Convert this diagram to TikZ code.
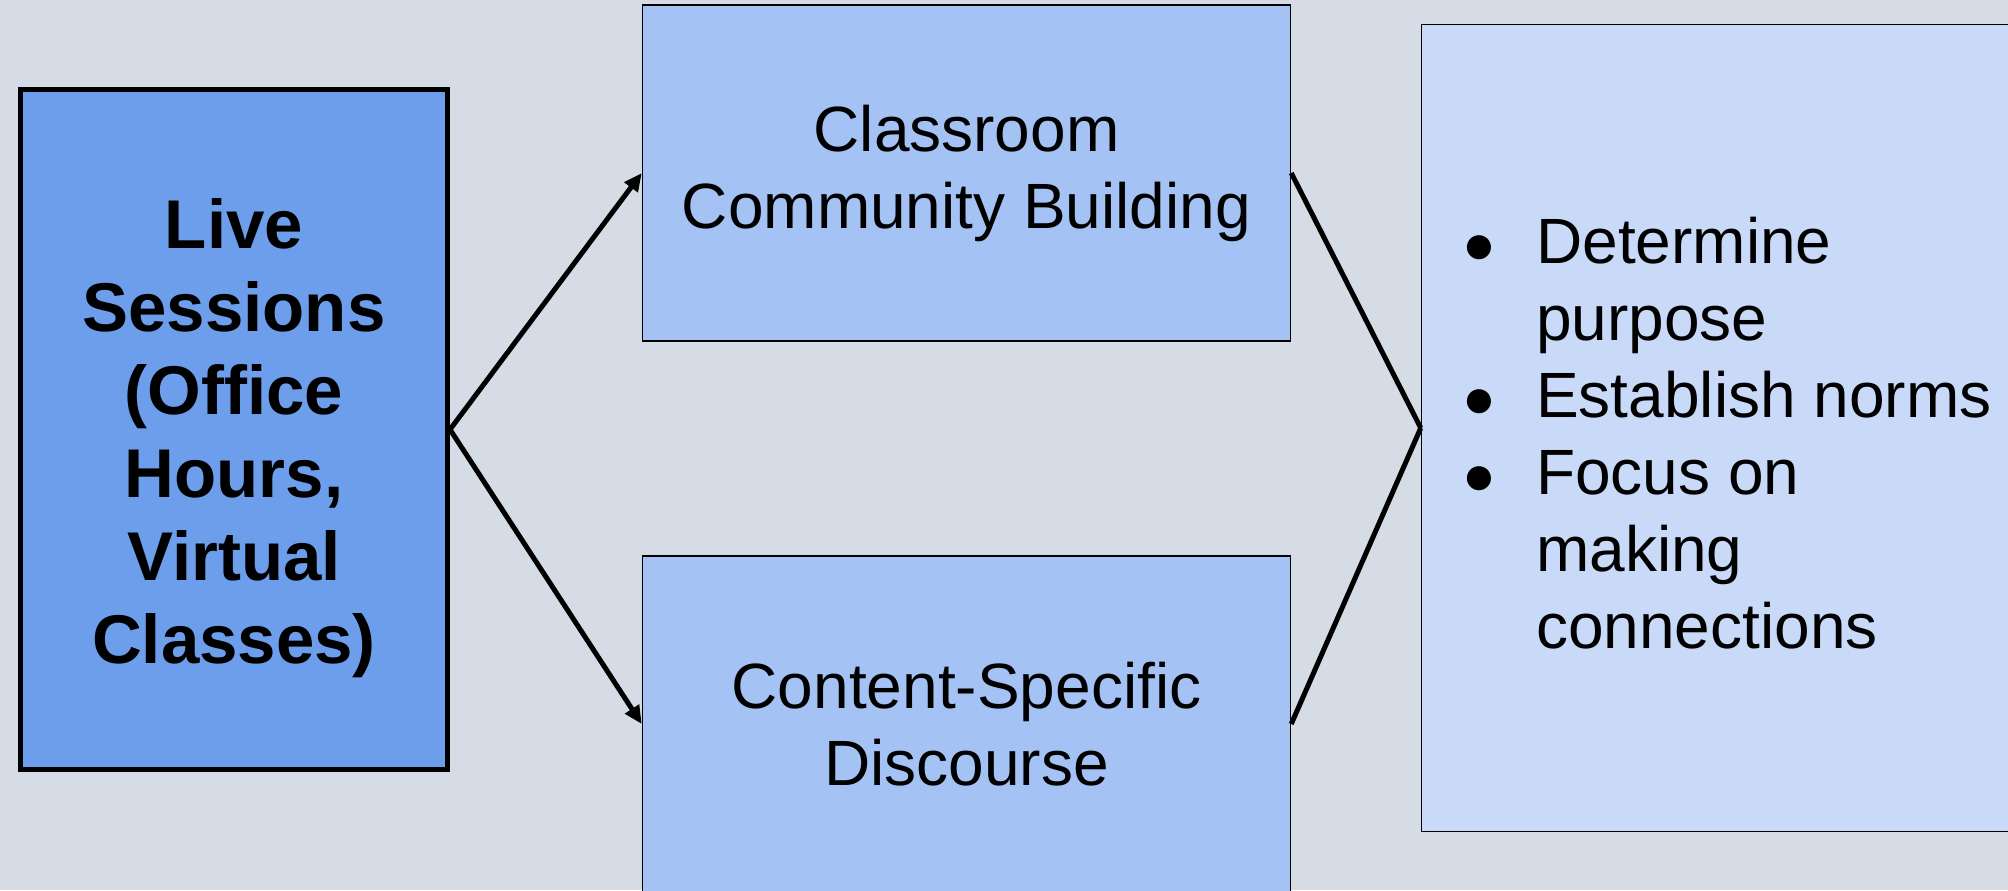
\documentclass[tikz,border=0pt]{standalone}
\usepackage{fontspec}
\setmainfont{Liberation Sans}
\usetikzlibrary{arrows.meta}
\definecolor{slidebg}{HTML}{D5DCE6}
\definecolor{livefill}{HTML}{6D9EEB}
\definecolor{topicfill}{HTML}{A4C2F4}
\definecolor{notefill}{HTML}{C9DAF8}
\tikzset{
    livebox/.style={draw, line width=2.5pt, fill=livefill, minimum width=213.5pt,
        minimum height=340pt, align=center,
        font=\fontsize{34.5}{41.5}\selectfont\bfseries},
    topicbox/.style={draw, line width=0.75pt, fill=topicfill, minimum width=324pt,
        minimum height=168pt, align=center,
        font=\fontsize{32}{38.5}\selectfont},
    notebox/.style={draw, line width=0.75pt, fill=notefill, minimum width=304pt,
        minimum height=403.5pt},
    linkline/.style={line width=2.5pt},
    linkarrow/.style={line width=2.5pt, -{Triangle[length=9pt,width=8pt]}}
}
\begin{document}
\begin{tikzpicture}[x=0.5pt, y=-0.5pt]
            \path[use as bounding box, fill=slidebg] (0, 0) rectangle (2008, 890);
            \clip (0, 0) rectangle (2008, 890);

            \node[livebox] (live) at (234, 429.5) {\rule{0pt}{33.5pt}Live\\Sessions\\(Office\\Hours,\\Virtual\\Classes)};
            \node[topicbox] (community) at (966.5, 173) {Classroom\\Community Building};
            \node[topicbox] (content) at (966.5, 724) {Content-Specific\\Discourse};
            \node[notebox] (norms) at (1725.5, 428) {};
            \node[anchor=base west, inner sep=0pt, font=\fontsize{32}{38.5}\selectfont] (tips) at (1462, 263) {%
                \begin{tabular}[t]{@{}l@{\hspace{20pt}}l@{}}
                    {\fontsize{28}{38.5}\selectfont ●} & Determine\\
                                & purpose\\
                    {\fontsize{28}{38.5}\selectfont ●} & Establish norms\\
                    {\fontsize{28}{38.5}\selectfont ●} & Focus on\\
                                & making\\
                                & connections
                \end{tabular}};

            \draw[linkarrow] (live.east) -- (community.west);
            \draw[linkarrow] (live.east) -- (content.west);
            \draw[linkline] (community.east) -- (norms.west);
            \draw[linkline] (content.east) -- (norms.west);
\end{tikzpicture}
\end{document}
